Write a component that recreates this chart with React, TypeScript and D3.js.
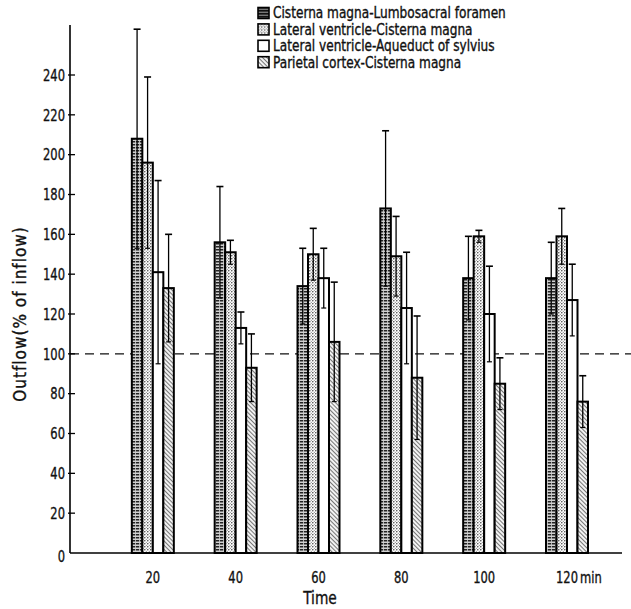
import React from 'react';
import * as d3 from 'd3';

const times = [20, 40, 60, 80, 100, 120];
const seriesNames = [
  'Cisterna magna-Lumbosacral foramen',
  'Lateral ventricle-Cisterna magna',
  'Lateral ventricle-Aqueduct of sylvius',
  'Parietal cortex-Cisterna magna',
];
const cmLumbo = [208, 156, 134, 173, 138, 138];
const cmLumboErr = [55, 28, 19, 39, 21, 18];
const lvCm = [196, 151, 150, 149, 159, 159];
const lvCmErr = [43, 6, 13, 20, 3, 14];
const lvAq = [141, 113, 138, 123, 120, 127];
const lvAqErr = [46, 8, 15, 28, 24, 18];
const pcCm = [133, 93, 106, 88, 85, 76];
const pcCmErr = [27, 17, 30, 31, 13, 13];
const yTicks = [0, 20, 40, 60, 80, 100, 120, 140, 160, 180, 200, 220, 240];
const xTickLabels = ['20', '40', '60', '80', '100', '120'];
const refLine = 100;

const values = [cmLumbo, lvCm, lvAq, pcCm];
const errors = [cmLumboErr, lvCmErr, lvAqErr, pcCmErr];
const fills = ['url(#p1)', 'url(#p2)', '#ffffff', 'url(#p4)'];
const legendFills = ['url(#p1L)', 'url(#p2)', '#ffffff', 'url(#p4)'];

const FONT = '"DejaVu Sans Condensed", "DejaVu Sans", sans-serif';

function CText({ x, y, sx = 0.8, size = 16, anchor = 'start', rotate = 0, ls = 0, children }: any) {
  return (
    <text
      transform={`translate(${x},${y}) rotate(${rotate}) scale(${sx},1)`}
      textAnchor={anchor}
      dy="0.36em"
      fontFamily={FONT}
      fontSize={size}
      letterSpacing={ls}
      fill="#111"
      stroke="#111"
      strokeWidth={0.35}
    >
      {children}
    </text>
  );
}

export default function App() {
  const x = d3.scaleLinear().domain([0, 120]).range([70, 567]);
  const y = d3.scaleLinear().domain([0, 240]).range([553, 75]);
  const band = d3.scaleBand<number>().domain([0, 1, 2, 3]).range([-21, 21]).padding(0);
  const bw = band.bandwidth();

  return (
    <svg width={631} height={609} style={{ position: 'absolute', left: 0, top: 0, background: '#fff' }}>
      <defs>
        <pattern id="p1" width={4} height={3} patternUnits="userSpaceOnUse">
          <rect width={4} height={3} fill="#d0d0d0" />
          <rect x={0} y={0} width={3.2} height={1.5} fill="#222" />
        </pattern>
        <pattern id="p1L" width={4} height={3} patternUnits="userSpaceOnUse">
          <rect width={4} height={3} fill="#777" />
          <rect x={0} y={0} width={4} height={1.6} fill="#111" />
        </pattern>
        <pattern id="p2" width={3} height={3} patternUnits="userSpaceOnUse">
          <rect width={3} height={3} fill="#fff" />
          <circle cx={0.8} cy={0.8} r={0.75} fill="#333" />
          <circle cx={2.3} cy={2.3} r={0.55} fill="#666" />
        </pattern>
        <pattern id="p4" width={3} height={3} patternUnits="userSpaceOnUse" patternTransform="rotate(-45)">
          <rect width={3} height={3} fill="#f2f2f2" />
          <line x1={0} y1={0} x2={0} y2={3} stroke="#222" strokeWidth={1.2} />
        </pattern>
      </defs>

      {/* reference dashed line */}
      <line x1={x(0)} x2={631} y1={y(refLine)} y2={y(refLine)} stroke="#111" strokeWidth={1.2} strokeDasharray="9 6" />

      {/* bars */}
      {values.map((vals, si) =>
        vals.map((v, i) => {
          const x0 = x(times[i]) + (band(si) as number);
          return (
            <rect key={`b${si}-${i}`} x={x0} y={y(v)} width={bw} height={y(0) - y(v)}
              fill={fills[si]} stroke="#000" strokeWidth={2} />
          );
        })
      )}

      {/* error bars */}
      {values.map((vals, si) =>
        vals.map((v, i) => {
          const cx = x(times[i]) + (band(si) as number) + bw / 2;
          const e = errors[si][i];
          return (
            <g key={`e${si}-${i}`} stroke="#000">
              <line x1={cx} x2={cx} y1={y(v + e)} y2={y(v - e)} strokeWidth={1.3} />
              <line x1={cx - 3.5} x2={cx + 3.5} y1={y(v + e)} y2={y(v + e)} strokeWidth={1.6} />
              <line x1={cx - 2.5} x2={cx + 2.5} y1={y(v - e)} y2={y(v - e)} strokeWidth={1.2} />
            </g>
          );
        })
      )}

      {/* axes */}
      <line x1={x(0)} x2={x(0)} y1={y(0)} y2={25} stroke="#000" strokeWidth={1.6} />
      <line x1={x(0)} x2={622} y1={y(0)} y2={y(0)} stroke="#000" strokeWidth={1.6} />
      {yTicks.map((t) => (
        <g key={`yt${t}`}>
          {t > 0 && <line x1={x(0) - 2} x2={x(0) + 5} y1={y(t)} y2={y(t)} stroke="#000" strokeWidth={1.3} />}
          <CText x={65} y={y(t) + (t === 0 ? 3 : 0)} anchor="end" sx={0.8} size={16}>{t}</CText>
        </g>
      ))}
      {xTickLabels.map((lab, i) => (
        <CText key={`xt${i}`} x={x(times[i])} y={577} anchor="middle" sx={0.8} size={16}>{lab}</CText>
      ))}
      <CText x={x(120) + 13} y={577} anchor="start" sx={0.8} size={16}>min</CText>

      <CText x={320} y={598} anchor="middle" sx={0.85} size={18}>Time</CText>
      <CText x={20} y={314} anchor="middle" sx={1} size={17} ls={1} rotate={-90}>Outflow(% of inflow)</CText>

      {/* legend */}
      {seriesNames.map((n, i) => (
        <g key={`lg${i}`} transform={`translate(258,${13 + i * 16.4})`}>
          <rect x={0} y={-5.5} width={11} height={11} fill={legendFills[i]} stroke="#000" strokeWidth={1.6} />
          <CText x={15} y={0} anchor="start" sx={0.9} size={15}>{n}</CText>
        </g>
      ))}
    </svg>
  );
}
